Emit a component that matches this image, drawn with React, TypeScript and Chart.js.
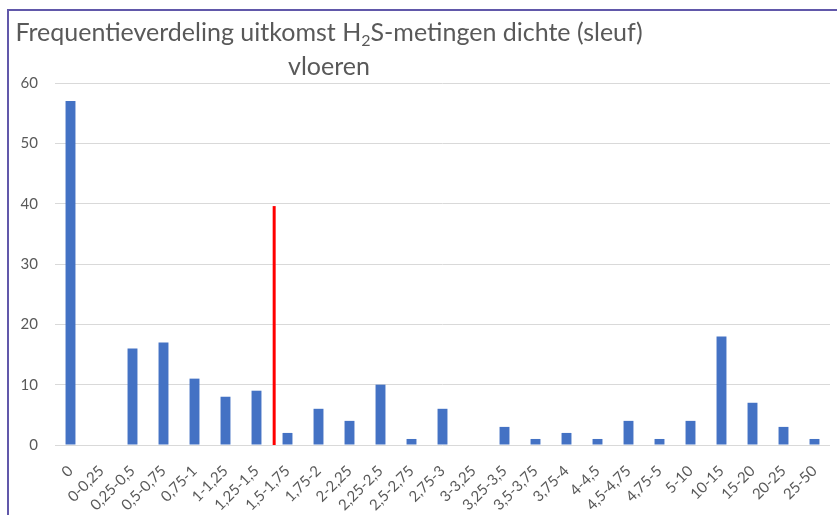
import React, { useEffect, useRef } from "react";
import { Chart, registerables } from "chart.js";

Chart.register(...registerables);

const categories = [
  "0", "0-0,25", "0,25-0,5", "0,5-0,75", "0,75-1", "1-1,25", "1,25-1,5",
  "1,5-1,75", "1,75-2", "2-2,25", "2,25-2,5", "2,5-2,75", "2,75-3", "3-3,25",
  "3,25-3,5", "3,5-3,75", "3,75-4", "4-4,5", "4,5-4,75", "4,75-5", "5-10",
  "10-15", "15-20", "20-25", "25-50",
];
const counts = [57, 0, 16, 17, 11, 8, 9, 2, 6, 4, 10, 1, 6, 0, 3, 1, 2, 1, 4, 1, 4, 18, 7, 3, 1];
// red marker line: position on the category axis (fractional index) and its value range
const markerPosition = 6.57;
const markerValues = [0, 39.6];
const yMin = 0;
const yMax = 60;
const yStep = 10;
const titleLine1 = "Frequentieverdeling uitkomst H";
const titleSub = "2";
const titleLine1End = "S-metingen dichte (sleuf)";
const titleLine2 = "vloeren";

const FONT = "Lato, 'Open Sans', sans-serif";

const markerPlugin = {
  id: "markerLine",
  afterDatasetsDraw(chart: any) {
    const xs = chart.scales.x;
    const ys = chart.scales.y;
    const ctx = chart.ctx;
    const px = xs.getPixelForValue(markerPosition);
    ctx.save();
    ctx.strokeStyle = "#FF0000";
    ctx.lineWidth = 3;
    ctx.lineCap = "butt";
    ctx.beginPath();
    ctx.moveTo(px, ys.getPixelForValue(markerValues[0]));
    ctx.lineTo(px, ys.getPixelForValue(markerValues[1]));
    ctx.stroke();
    ctx.restore();
  },
};

export default function App() {
  const ref = useRef<HTMLCanvasElement | null>(null);

  useEffect(() => {
    const canvas = ref.current;
    if (!canvas) return;
    const chart = new Chart(canvas, {
      type: "bar",
      data: {
        labels: categories,
        datasets: [
          {
            data: counts,
            backgroundColor: "#4472C4",
            barPercentage: 0.64,
            categoryPercentage: 0.5,
          },
        ],
      },
      options: {
        animation: false,
        responsive: false,
        maintainAspectRatio: false,
        layout: { padding: { left: 10, top: 83, right: 7, bottom: 0 } },
        plugins: {
          legend: { display: false },
          tooltip: { enabled: false },
          title: { display: false },
        },
        scales: {
          x: {
            grid: { display: false },
            border: { display: false },
            ticks: {
              autoSkip: false,
              maxRotation: 45,
              minRotation: 45,
              color: "#595959",
              font: { family: FONT, size: 15 },
              padding: 9,
            },
            afterFit(s: any) {
              s.height = 70;
            },
          },
          y: {
            min: yMin,
            max: yMax,
            ticks: {
              stepSize: yStep,
              color: "#595959",
              font: { family: FONT, size: 15 },
              padding: 17,
            },
            grid: { color: "#d9d9d9", drawTicks: false, lineWidth: 1 },
            border: { display: false },
            afterFit(s: any) {
              s.width = 45;
            },
          },
        } as any,
      },
      plugins: [markerPlugin],
    });
    return () => chart.destroy();
  }, []);

  return (
    <div
      style={{
        position: "fixed",
        left: 0,
        top: 0,
        width: 837,
        height: 515,
        background: "#fff",
        overflow: "hidden",
      }}
    >
      <canvas
        ref={ref}
        width={837}
        height={515}
        style={{ position: "absolute", left: 0, top: 0, width: 837, height: 515, display: "block" }}
      />
      <div
        style={{
          position: "absolute",
          left: 7,
          top: 9,
          right: -20,
          bottom: -20,
          borderLeft: "2px solid #6158aa",
          borderTop: "2px solid #6158aa",
          pointerEvents: "none",
        }}
      />
      <div
        style={{
          position: "absolute",
          left: 12,
          top: 14,
          width: 634,
          textAlign: "center",
          fontFamily: FONT,
          fontSize: 25,
          lineHeight: "34px",
          color: "#595959",
          whiteSpace: "nowrap",
        }}
      >
        <div>
          {titleLine1}
          <sub style={{ fontSize: 16, verticalAlign: "-5px", lineHeight: 0 }}>{titleSub}</sub>
          {titleLine1End}
        </div>
        <div>{titleLine2}</div>
      </div>
    </div>
  );
}
